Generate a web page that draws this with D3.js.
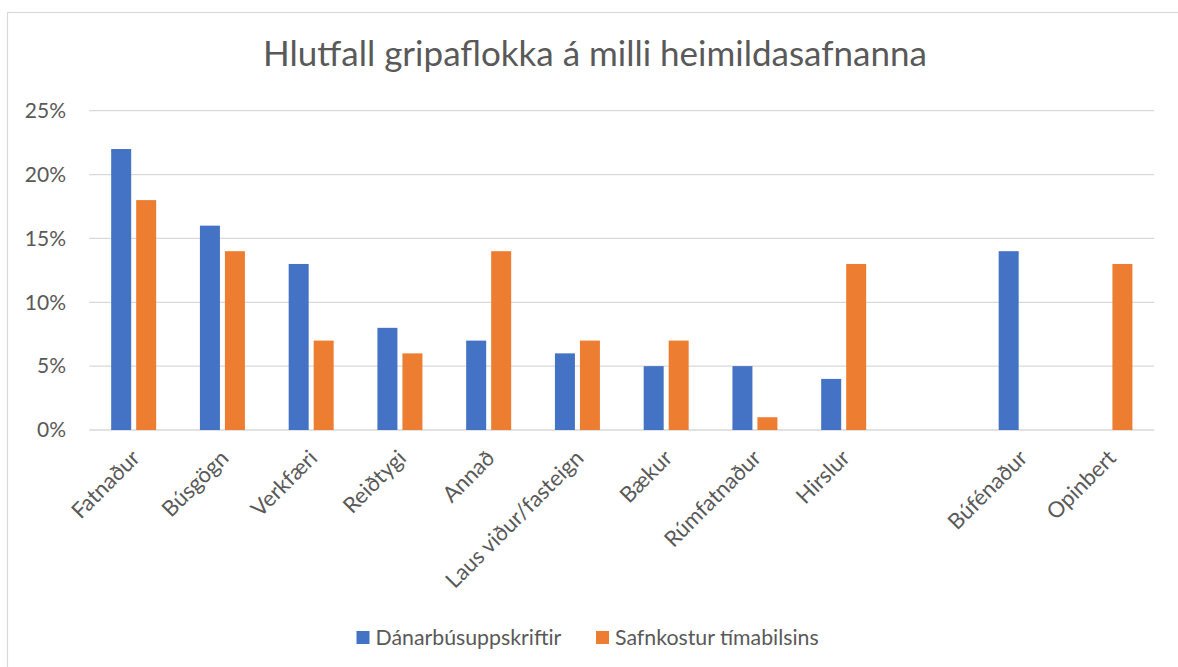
<!DOCTYPE html>
<html>
<head>
<meta charset="utf-8">
<script src="https://cdn.jsdelivr.net/npm/d3@7"></script>
<style>
  body { margin: 0; background: #fff; }
  text { font-family: Lato, "Open Sans", sans-serif; fill: #595959; }
</style>
</head>
<body>
<script>
// data (percent)
const categories = ["Fatnaður", "Búsgögn", "Verkfæri", "Reiðtygi", "Annað", "Laus viður/fasteign",
  "Bækur", "Rúmfatnaður", "Hirslur", "", "Búfénaður", "Opinbert"];
const seriesNames = ["Dánarbúsuppskriftir", "Safnkostur tímabilsins"];
const danarbu = [22, 16, 13, 8, 7, 6, 5, 5, 4, 0, 14, 0];
const safnkostur = [18, 14, 7, 6, 14, 7, 7, 1, 13, 0, 0, 13];
const yTicks = [0, 5, 10, 15, 20, 25];
const colors = ["#4472C4", "#ED7D31"];

const width = 1178, height = 667;
const margin = {top: 110.7, right: 1178 - 1154.3, bottom: 667 - 430, left: 89.3};

const svg = d3.select("body")
  .append("svg")
  .attr("width", width)
  .attr("height", height);

// outer chart border
svg.append("rect")
  .attr("x", 7.5)
  .attr("y", 12.5)
  .attr("width", width + 20)
  .attr("height", height + 20)
  .attr("fill", "none")
  .attr("stroke", "#d9d9d9")
  .attr("stroke-width", 1.2);

const x = d3.scaleBand()
  .domain(d3.range(categories.length))
  .range([margin.left, width - margin.right])
  .paddingInner(0.493)
  .paddingOuter(0.2465);

const xSub = d3.scaleBand()
  .domain([0, 1])
  .range([0, x.bandwidth()])
  .paddingInner(0.2);

const y = d3.scaleLinear()
  .domain([0, 25])
  .range([height - margin.bottom, margin.top]);

// gridlines
svg.append("g")
  .selectAll("line")
  .data(yTicks)
  .enter()
  .append("line")
  .attr("x1", margin.left)
  .attr("x2", width - margin.right)
  .attr("y1", d => y(d))
  .attr("y2", d => y(d))
  .attr("stroke", "#d9d9d9")
  .attr("stroke-width", 1.3);

// y labels
svg.append("g")
  .selectAll("text")
  .data(yTicks)
  .enter()
  .append("text")
  .attr("x", 66)
  .attr("y", d => y(d))
  .attr("dy", "0.35em")
  .attr("text-anchor", "end")
  .attr("font-size", 21)
  .text(d => d + "%");

// bars
const rows = categories.map((c, i) => ({i: i, values: [danarbu[i], safnkostur[i]]}));

const group = svg.append("g")
  .selectAll("g")
  .data(rows)
  .enter()
  .append("g")
  .attr("transform", d => "translate(" + x(d.i) + ",0)");

group.selectAll("rect")
  .data(d => d.values.map((v, s) => ({s: s, v: v})))
  .enter()
  .filter(d => d.v > 0)
  .append("rect")
  .attr("x", d => xSub(d.s))
  .attr("width", xSub.bandwidth())
  .attr("y", d => y(d.v))
  .attr("height", d => y(0) - y(d.v))
  .attr("fill", d => colors[d.s]);

// x labels, rotated
svg.append("g")
  .selectAll("text")
  .data(categories)
  .enter()
  .append("text")
  .attr("transform", (d, i) => "translate(" + (x(i) + x.bandwidth() / 2 + 2) + ",454) rotate(-45)")
  .attr("text-anchor", "end")
  .attr("dy", "0.35em")
  .attr("font-size", 22)
  .text(d => d);

// title
svg.append("text")
  .attr("x", 595)
  .attr("y", 66)
  .attr("text-anchor", "middle")
  .attr("font-size", 35)
  .text("Hlutfall gripaflokka á milli heimildasafnanna");

// legend
const legendX = [356.5, 596];
const legend = svg.append("g")
  .selectAll("g")
  .data(seriesNames)
  .enter()
  .append("g")
  .attr("transform", (d, i) => "translate(" + legendX[i] + ",631)");

legend.append("rect")
  .attr("width", 13)
  .attr("height", 13)
  .attr("fill", (d, i) => colors[i]);

legend.append("text")
  .attr("x", 19)
  .attr("y", 14)
  .attr("font-size", 21.3)
  .text(d => d);
</script>
</body>
</html>
